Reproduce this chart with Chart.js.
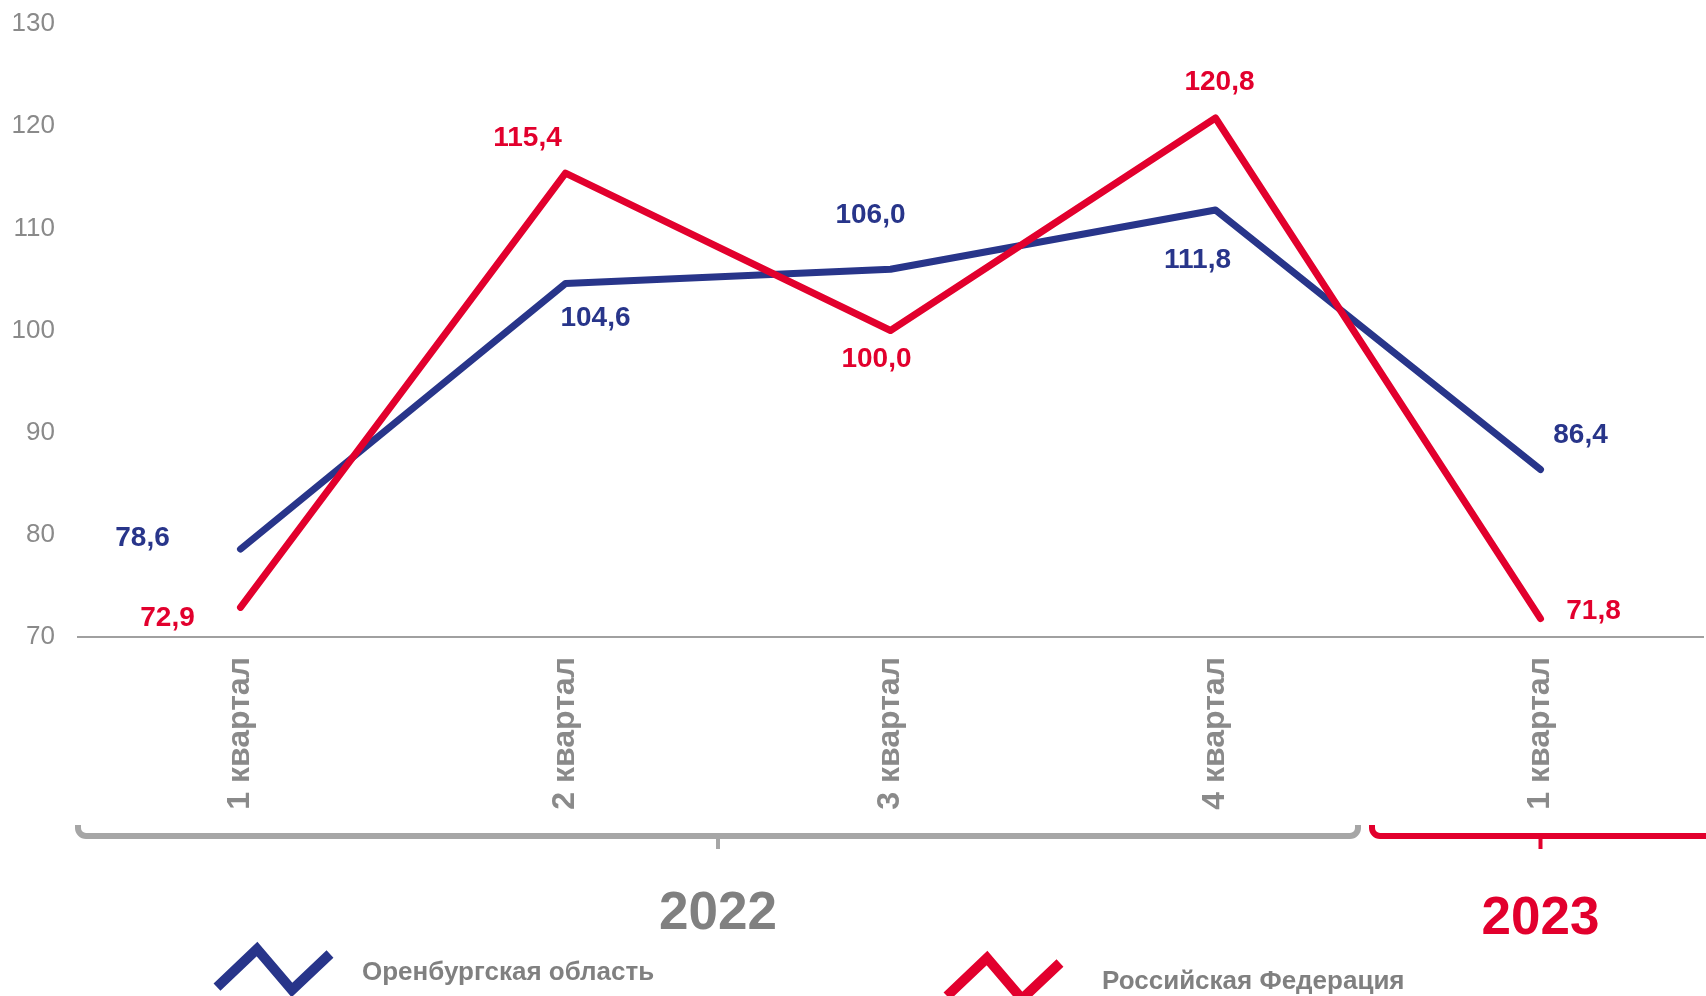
<!DOCTYPE html>
<html>
<head>
<meta charset="utf-8">
<script src="https://cdn.jsdelivr.net/npm/chart.js@4/dist/chart.umd.min.js"></script>
<style>
  html, body { margin: 0; padding: 0; background: #fff; }
  #wrap { width: 1706px; height: 996px; }
</style>
</head>
<body>
<div id="wrap"><canvas id="lineChart"></canvas></div>
<script>
// данные
var quarters = ['1 квартал', '2 квартал', '3 квартал', '4 квартал', '1 квартал'];
var orenburg = [78.6, 104.6, 106.0, 111.8, 86.4];
var russia = [72.9, 115.4, 100.0, 120.8, 71.8];
var seriesNames = ['Оренбургская область', 'Российская Федерация'];
var years = ['2022', '2023'];
var yearQuarters = [4, 1];
var yTicks = [70, 80, 90, 100, 110, 120, 130];

var BLUE = '#28358a';
var RED = '#e2002d';
var GRAY = '#8a8a8a';

// смещения подписей значений относительно точки (px)
var blueLabelPos = [[-98, -11], [30, 35], [-20, -54], [-18, 50], [40, -34]];
var redLabelPos = [[-73, 11], [-38, -35], [-14, 29], [4, -36], [53, -7]];

function fmt(v) {
  return v.toFixed(1).replace('.', ',');
}

var extras = {
  id: 'extras',
  afterDraw: function (chart) {
    var c = chart.ctx;
    var xs = chart.scales.x;
    var area = chart.chartArea;

    // подписи значений
    c.save();
    c.font = 'bold 28px "Liberation Sans", Arial, sans-serif';
    c.textAlign = 'center';
    c.textBaseline = 'middle';
    [[0, blueLabelPos, BLUE], [1, redLabelPos, RED]].forEach(function (s) {
      var meta = chart.getDatasetMeta(s[0]);
      meta.data.forEach(function (pt, i) {
        c.fillStyle = s[2];
        c.fillText(fmt(chart.data.datasets[s[0]].data[i]), pt.x + s[1][i][0], pt.y + s[1][i][1]);
      });
    });
    c.restore();

    // скобки по годам
    var step = xs.getPixelForValue(1) - xs.getPixelForValue(0);
    var y0 = 836, r = 8;
    var start = 0;
    years.forEach(function (yr, k) {
      var n = yearQuarters[k];
      var first = xs.getPixelForValue(start);
      var last = xs.getPixelForValue(start + n - 1);
      var left = k === 0 ? area.left : first - step / 2 - 6;
      var right = k === years.length - 1 ? chart.width + 20 : last + step / 2 - 20;
      var tip = k === years.length - 1 ? first : (left + right) / 2;
      var col = k === 0 ? '#a6a6a6' : RED;
      c.save();
      c.strokeStyle = col;
      c.lineWidth = 6;
      c.lineCap = 'butt';
      c.beginPath();
      c.moveTo(left, y0 - 11);
      c.arcTo(left, y0, left + r, y0, r);
      c.lineTo(right - r, y0);
      c.arcTo(right, y0, right, y0 - r, r);
      c.lineTo(right, y0 - 11);
      c.stroke();
      c.lineWidth = 4;
      c.beginPath();
      c.moveTo(tip, y0);
      c.lineTo(tip, y0 + 13);
      c.stroke();
      c.fillStyle = k === 0 ? '#808080' : RED;
      c.font = 'bold 53px "Liberation Sans", Arial, sans-serif';
      c.textAlign = 'center';
      c.textBaseline = 'middle';
      c.fillText(yr, tip, k === 0 ? 914 : 919);
      c.restore();
      start += n;
    });

    // легенда
    var legendItems = [[217, 987, BLUE, 362, 973], [947, 996, RED, 1102, 982]];
    legendItems.forEach(function (it, i) {
      var x = it[0], y = it[1];
      c.save();
      c.strokeStyle = it[2];
      c.lineWidth = 10;
      c.lineJoin = 'miter';
      c.beginPath();
      c.moveTo(x, y);
      c.lineTo(x + 40, y - 38);
      c.lineTo(x + 75, y + 3);
      c.lineTo(x + 113, y - 33);
      c.stroke();
      c.fillStyle = '#808080';
      c.font = 'bold 26px "Liberation Sans", Arial, sans-serif';
      c.textAlign = 'left';
      c.textBaseline = 'middle';
      c.fillText(seriesNames[i], it[3], it[4]);
      c.restore();
    });
  }
};

var data = {
  labels: quarters,
  datasets: [
    {
      label: seriesNames[0],
      data: orenburg,
      borderColor: BLUE,
      backgroundColor: BLUE,
      borderWidth: 7,
      pointRadius: 0,
      tension: 0,
      borderCapStyle: 'round',
      borderJoinStyle: 'round',
      order: 2
    },
    {
      label: seriesNames[1],
      data: russia,
      borderColor: RED,
      backgroundColor: RED,
      borderWidth: 7,
      pointRadius: 0,
      tension: 0,
      borderCapStyle: 'round',
      borderJoinStyle: 'round',
      order: 1
    }
  ]
};

var options = {
  responsive: true,
  maintainAspectRatio: false,
  animation: false,
  layout: { padding: { top: 24, right: 3, left: 0, bottom: 0 } },
  plugins: {
    legend: { display: false },
    tooltip: { enabled: false }
  },
  scales: {
    x: {
      offset: true,
      grid: { display: false, drawTicks: false },
      border: { display: true, color: '#a0a0a0', width: 2 },
      ticks: {
        color: GRAY,
        font: { family: '"Liberation Sans", Arial, sans-serif', size: 32, weight: 'bold' },
        minRotation: 90,
        maxRotation: 90,
        autoSkip: false,
        padding: 20
      },
      afterFit: function (scale) {
        scale.height = 359;
        scale.paddingTop = 0;
        scale.paddingBottom = 0;
      }
    },
    y: {
      min: yTicks[0],
      max: yTicks[yTicks.length - 1],
      grid: { display: false, drawTicks: false },
      border: { display: false },
      ticks: {
        stepSize: 10,
        color: GRAY,
        padding: 23,
        font: { family: '"Liberation Sans", Arial, sans-serif', size: 26 }
      },
      afterFit: function (scale) {
        scale.width = 78;
        scale.paddingTop = 0;
        scale.paddingBottom = 0;
      }
    }
  }
};

var ctx = document.getElementById('lineChart').getContext('2d');
var myLineChart = new Chart(ctx, {
  type: 'line',
  data: data,
  options: options,
  plugins: [extras]
});
</script>
</body>
</html>
